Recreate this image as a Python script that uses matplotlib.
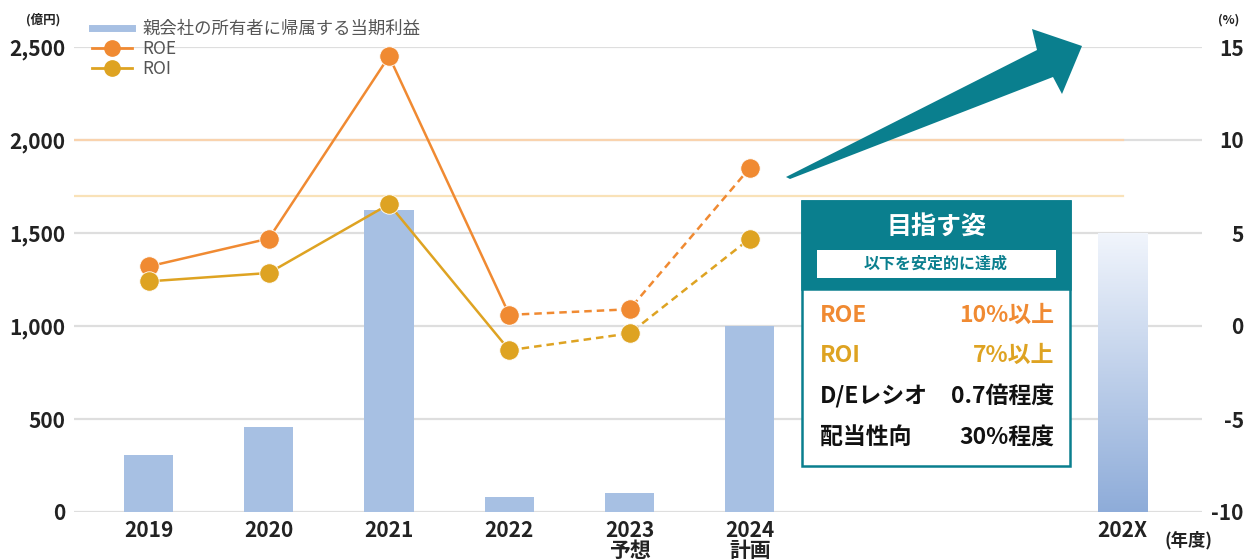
import numpy as np
import matplotlib
matplotlib.use("Agg")
import matplotlib.pyplot as plt
from matplotlib.lines import Line2D
from matplotlib.patches import Rectangle, Polygon
from matplotlib.colors import LinearSegmentedColormap

plt.rcParams['font.family'] = ['Noto Sans CJK JP', 'DejaVu Sans']
plt.rcParams['axes.unicode_minus'] = False

# data
years = ['2019', '2020', '2021', '2022', '2023\n予想', '2024\n計画']
profit = [306, 457, 1624, 81, 102, 1000]          # 億円
roe = [3.2, 4.7, 14.5, 0.6, 0.9, 8.5]             # %
roi = [2.4, 2.85, 6.55, -1.3, -0.4, 4.7]          # %
target_label = '202X'
target_profit = 1500
target_roe = 10
target_roi = 7
goal_rows = [('ROE', '10%以上'), ('ROI', '7%以上'),
             ('D/Eレシオ', '0.7倍程度'), ('配当性向', '30%程度')]

BAR = '#a7c0e3'
ORANGE = '#f08a32'
GOLD = '#dea322'
TEAL = '#0a7f8e'
GRID = '#dedede'
TXT = '#222222'

W, H = 1248, 560
fig = plt.figure(figsize=(12.48, 5.6), dpi=100)
ax = fig.add_axes([74 / W, 1 - 512 / H, (1202 - 74) / W, (512 - 47) / H])
ax2 = ax.twinx()

x = np.arange(len(years))
x_target = 8.1
bw = 0.41

ax.set_xlim(-0.62, 8.76)
ax.set_ylim(0, 2500)
ax2.set_ylim(-10, 15)

ax.set_yticks([0, 500, 1000, 1500, 2000, 2500])
ax.set_yticklabels(['0', '500', '1,000', '1,500', '2,000', '2,500'])
ax2.set_yticks([-10, -5, 0, 5, 10, 15])
ax.grid(axis='y', color=GRID, lw=1.6, zorder=0)
ax.set_axisbelow(True)

for a in (ax, ax2):
    for s in a.spines.values():
        s.set_visible(False)
    a.tick_params(length=0, labelsize=15, labelcolor=TXT)
ax.tick_params(axis='y', pad=6)
ax.tick_params(axis='x', pad=6)
ax2.tick_params(axis='y', pad=30)
for lab in ax2.get_yticklabels():
    lab.set_horizontalalignment('right')

# target lines for ROE / ROI
ax2.plot([-0.62, x_target], [target_roe, target_roe], color='#f9d3ae', lw=1.6, zorder=1)
ax2.plot([-0.62, x_target], [target_roi, target_roi], color='#f9e2b8', lw=1.6, zorder=1)

# bars
ax.bar(x, profit, width=bw, color=BAR, zorder=2)
tb = ax.bar([x_target], [target_profit], width=bw, color='none', zorder=2)[0]
cmap = LinearSegmentedColormap.from_list('g', ['#8eacd9', '#f1f5fc'])
grad = np.linspace(0, 1, 256).reshape(-1, 1)
im = ax.imshow(grad, extent=[x_target - bw / 2, x_target + bw / 2, 0, target_profit],
               origin='lower', aspect='auto', cmap=cmap, zorder=2)
im.set_clip_path(tb)
ax.set_xlim(-0.62, 8.76)
ax.set_ylim(0, 2500)

ax.set_xticks(list(x) + [x_target])
ax.set_xticklabels(years + [target_label], linespacing=0.95)

for lab in ax.get_xticklabels() + ax.get_yticklabels() + ax2.get_yticklabels():
    lab.set_fontweight('bold')

# lines
for vals, c in ((roe, ORANGE), (roi, GOLD)):
    ax2.plot(x[:4], vals[:4], color=c, lw=1.8, zorder=4, clip_on=False)
    ax2.plot(x[3:], vals[3:], color=c, lw=1.8, ls=(0, (3, 2)), zorder=4, clip_on=False)
    ax2.plot(x, vals, 'o', ms=14, color=c, mec='white', mew=0.6, zorder=5, clip_on=False)

ax.patch.set_visible(False)
ax2.patch.set_visible(False)
ax.set_zorder(1)
ax2.set_zorder(2)


def px(xp, yp):
    return xp / W, 1 - yp / H


# legend
handles = [Line2D([], [], color=BAR, lw=5),
           Line2D([], [], color=ORANGE, lw=2, marker='o', ms=11),
           Line2D([], [], color=GOLD, lw=2, marker='o', ms=11)]
fig.legend(handles, ['親会社の所有者に帰属する当期利益', 'ROE', 'ROI'],
           loc='upper left', bbox_to_anchor=px(80, 8), frameon=False,
           fontsize=12.5, labelcolor='#555555', handlelength=2.3,
           handletextpad=0.6, labelspacing=0.12, borderpad=0.2)

fig.text(*px(43, 20), '(億円)', fontsize=9, color=TXT, ha='center', va='center',
         fontweight='bold')
fig.text(*px(1229, 20), '(%)', fontsize=9, color=TXT, ha='center', va='center',
         fontweight='bold')
fig.text(*px(1189, 540), '(年度)', fontsize=12.5, color=TXT, ha='center', va='center',
         fontweight='bold')

# big arrow
arrow_pts = [px(786, 177), px(1037, 50), px(1032, 29), px(1082, 46),
             px(1062, 94), px(1053, 77), px(790, 179)]
fig.patches.append(Polygon(arrow_pts, closed=True, transform=fig.transFigure,
                           facecolor=TEAL, edgecolor='none', zorder=5))

# goal box
bx0, by0 = px(802, 466)
bx1, by1 = px(1070, 201)
fig.patches.append(Rectangle((bx0, by0), bx1 - bx0, by1 - by0, transform=fig.transFigure,
                             facecolor='white', edgecolor=TEAL, lw=1.8, zorder=6))
hy = px(0, 289)[1]
fig.patches.append(Rectangle((bx0, hy), bx1 - bx0, by1 - hy, transform=fig.transFigure,
                             facecolor=TEAL, edgecolor=TEAL, lw=1.8, zorder=7))
ix0, iy0 = px(817, 278)
ix1, iy1 = px(1056, 250)
fig.patches.append(Rectangle((ix0, iy0), ix1 - ix0, iy1 - iy0, transform=fig.transFigure,
                             facecolor='white', edgecolor='none', zorder=8))
fig.text(*px(936, 227), '目指す姿', fontsize=18, color='white', ha='center', va='center',
         zorder=9, fontweight='bold')
fig.text(*px(936, 264), '以下を安定的に達成', fontsize=11.5, color=TEAL, ha='center',
         va='center', zorder=9, fontweight='bold')
row_colors = [ORANGE, GOLD, '#111111', '#111111']
for i, ((k, v), c) in enumerate(zip(goal_rows, row_colors)):
    yy = 315 + i * 40.7
    fig.text(*px(820, yy), k, fontsize=16.5, color=c, ha='left', va='center', zorder=9,
             fontweight='bold')
    fig.text(*px(1054, yy), v, fontsize=16.5, color=c, ha='right', va='center', zorder=9,
             fontweight='bold')

fig.savefig('out.png', dpi=100, facecolor='white')
